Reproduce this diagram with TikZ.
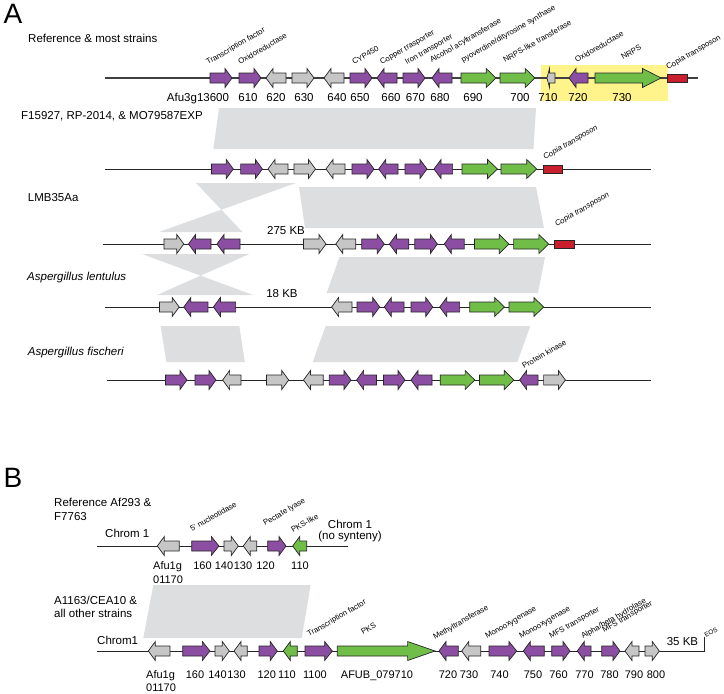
\documentclass[tikz,border=0pt]{standalone}
\usepackage{fontspec}
\setmainfont{Liberation Sans}
\definecolor{gpurple}{RGB}{140,78,162}
\definecolor{ggray}{RGB}{198,198,198}
\definecolor{ggreen}{RGB}{112,190,72}
\definecolor{gred}{RGB}{200,30,45}
\definecolor{gyellow}{RGB}{255,243,140}
\definecolor{gband}{RGB}{221,222,223}
\tikzset{
  gene/.style={draw=black!85, line width=0.7pt, line join=miter},
  pu/.style={fill=gpurple}, gr/.style={fill=ggray}, gn/.style={fill=ggreen},
  band/.style={fill=gband, draw=none},
  chrom/.style={draw=black!85, line width=0.8pt},
  lab/.style={font=\fontsize{11.5}{13}\selectfont, inner sep=0},
  num/.style={font=\fontsize{11}{13}\selectfont, inner sep=0, anchor=base},
  fn/.style={font=\fontsize{7.8}{9}\selectfont, rotate=30, anchor=base west, inner sep=0},
  big/.style={font=\fontsize{28}{30}\selectfont, inner sep=0}
}
\newcommand\gR[4]{%
  \pgfmathsetmacro\ghl{max(7,0.28*(#2-#1))}%
  \draw[gene,#4] (#1,#3-5) -- ({#2-\ghl},#3-5) -- ({#2-\ghl},#3-9.5) -- (#2,#3) -- ({#2-\ghl},#3+9.5) -- ({#2-\ghl},#3+5) -- (#1,#3+5) -- cycle;}
\newcommand\gL[4]{%
  \pgfmathsetmacro\ghl{max(7,0.28*(#2-#1))}%
  \draw[gene,#4] (#2,#3-5) -- ({#1+\ghl},#3-5) -- ({#1+\ghl},#3-9.5) -- (#1,#3) -- ({#1+\ghl},#3+9.5) -- ({#1+\ghl},#3+5) -- (#2,#3+5) -- cycle;}
\begin{document}
\begin{tikzpicture}[x=1pt,y=-1pt]
\useasboundingbox (0,0) rectangle (724,694);
% ---------------- Panel A ----------------
\node[big] (labA) at (13,14) {A};
\fill[gyellow] (540.7,65) rectangle (668,101);
% bands
\fill[band] (219,108) -- (536,108) -- (533.5,149) -- (213.4,149) -- cycle;
\fill[band] (196,183) -- (296,183) -- (159,232) -- (242.5,232) -- cycle;
\fill[band] (299,187) -- (536,187) -- (544,228) -- (305,228) -- cycle;
\fill[band] (142,254) -- (249.4,254) -- (157,295) -- (253,295) -- cycle;
\fill[band] (339.5,257) -- (545,257) -- (538,293) -- (326.6,293) -- cycle;
\fill[band] (160.7,326) -- (239.3,326) -- (244.8,362) -- (166.3,362) -- cycle;
\fill[band] (325.6,326) -- (530.3,326) -- (517.3,362) -- (312.7,362) -- cycle;
% row labels
\node[lab, anchor=west] (r1) at (28,38) {Reference \& most strains};
\node[lab, anchor=west] (r2) at (21,116) {F15927, RP-2014, \& MO79587EXP};
\node[lab, anchor=west] (r3) at (27.7,198) {LMB35Aa};
\node[lab, anchor=west] (r4) at (27,278) {\itshape Aspergillus lentulus};
\node[lab, anchor=west] (r5) at (27.7,353) {\itshape Aspergillus fischeri};
% row 1
\draw[line width=1.4pt, draw=black!75] (105,78) -- (698,78);
\gR{210}{232}{78}{pu}
\gR{239}{261}{78}{pu}
\gL{266}{286}{78}{gr}
\gR{292}{314}{78}{gr}
\gL{324}{344}{78}{gr}
\gR{350}{372}{78}{pu}
\gL{377}{397}{78}{pu}
\gR{403}{425}{78}{pu}
\gL{432}{452}{78}{pu}
\gR{461}{496}{78}{gn}
\gR{500}{535}{78}{gn}
\draw[gene,gr] (555,73) -- (549.5,73) -- (549.5,68.5) -- (547,78) -- (549.5,87.5) -- (549.5,83) -- (555,83) -- cycle;
\gL{569}{588}{78}{pu}
\gR{595}{661}{78}{gn}
\draw[gene, fill=gred] (667,74) rectangle (687,82);
\node[lab, anchor=base] (n600) at (198,101) {Afu3g13600};
\node[lab, anchor=base] (n610) at (248,101) {610};
\node[lab, anchor=base] (n620) at (276,101) {620};
\node[lab, anchor=base] (n630) at (304,101) {630};
\node[lab, anchor=base] (n640) at (337,101) {640};
\node[lab, anchor=base] (n650) at (360,101) {650};
\node[lab, anchor=base] (n660) at (391,101) {660};
\node[lab, anchor=base] (n670) at (415.5,101) {670};
\node[lab, anchor=base] (n680) at (440,101) {680};
\node[lab, anchor=base] (n690) at (473,101) {690};
\node[lab, anchor=base] (n700) at (520,101) {700};
\node[lab, anchor=base] (n710) at (548,101) {710};
\node[lab, anchor=base] (n720) at (578,101) {720};
\node[lab, anchor=base] (n730) at (622,101) {730};
\node[fn] (f1) at (208,65) {Transcription factor};
\node[fn] (f2) at (240,65) {Oxidoreductase};
\node[fn] (f3) at (354,65) {CYP450};
\node[fn] (f4) at (381.7,65) {Copper trasporter};
\node[fn] (f5) at (406.7,65) {Iron transporter};
\node[fn] (f6) at (431.7,63) {Alcohol acyltransferase};
\node[fn] (f7) at (463,63) {pyoverdine/dityrosine synthase};
\node[fn] (f8) at (505,63) {NRPS-like transferase};
\node[fn] (f9) at (576.7,63) {Oxidoreductase};
\node[fn] (f10) at (623,60) {NRPS};
\node[fn] (f11) at (668,70) {Copia transposon};
% row 2
\draw[chrom] (105,169) -- (651,169);
\gR{211.5}{233.3}{169}{pu}
\gR{240.6}{262.4}{169}{pu}
\gL{268}{288}{169}{gr}
\gR{294}{315.5}{169}{gr}
\gL{326}{345}{169}{gr}
\gR{352}{374}{169}{pu}
\gL{378.7}{398}{169}{pu}
\gR{405}{427}{169}{pu}
\gL{434}{452.6}{169}{pu}
\gR{462}{497.5}{169}{gn}
\gR{501}{536.7}{169}{gn}
\draw[gene, fill=gred] (543,165) rectangle (562.6,173);
\node[fn, font=\fontsize{7.8}{9}\selectfont\itshape] (c2) at (545,160) {Copia transposon};
% row 3
\draw[chrom] (102.5,244) -- (651,244);
\gR{164}{183.8}{244}{gr}
\gL{188.5}{211}{244}{pu}
\gL{217}{240}{244}{pu}
\gR{303.5}{326}{244}{gr}
\gL{335.8}{355.7}{244}{gr}
\gR{361.7}{384.3}{244}{pu}
\gL{389.4}{408.8}{244}{pu}
\gR{414.8}{437.4}{244}{pu}
\gL{444.3}{464.2}{244}{pu}
\gR{474.4}{509}{244}{gn}
\gR{513.6}{548.7}{244}{gn}
\draw[gene, fill=gred] (554.3,240) rectangle (574.6,248);
\node[fn, font=\fontsize{7.8}{9}\selectfont\itshape] (c3) at (556.6,227) {Copia transposon};
\node[lab] (kb275) at (286,231) {275 KB};
% row 4
\draw[chrom] (105,307) -- (651,307);
\gR{159.4}{179.2}{307}{gr}
\gL{183.8}{207.9}{307}{pu}
\gL{213.4}{235.6}{307}{pu}
\gL{331.6}{352}{307}{gr}
\gR{357}{379.7}{307}{pu}
\gL{384.3}{404}{307}{pu}
\gR{411}{432.8}{307}{pu}
\gL{439.7}{459.6}{307}{pu}
\gR{469.7}{504.4}{307}{gn}
\gR{509}{543.6}{307}{gn}
\node[lab] (kb18) at (282,294) {18 KB};
% row 5
\draw[chrom] (107,380) -- (651,380);
\gR{165.4}{187}{380}{pu}
\gR{195}{216}{380}{pu}
\gL{222.6}{241}{380}{gr}
\gR{266.5}{288.7}{380}{gr}
\gL{303.5}{323.3}{380}{gr}
\gR{329.3}{351}{380}{pu}
\gL{356.6}{376.4}{380}{pu}
\gR{383.4}{405}{380}{pu}
\gL{411}{432}{380}{pu}
\gR{440.2}{474.8}{380}{gn}
\gR{479.4}{514}{380}{gn}
\gL{519.6}{538}{380}{pu}
\gR{543.6}{565.4}{380}{gr}
\node[fn] (pk) at (524,369) {Protein kinase};
% ---------------- Panel B ----------------
\node[big] (labB) at (13,478) {B};
\fill[band] (153.3,585) -- (310.7,585) -- (301.7,638) -- (143.3,638) -- cycle;
\node[lab, anchor=west] (b1a) at (54,502) {Reference Af293 \&};
\node[lab, anchor=west] (b1b) at (54,517) {F7763};
\node[lab, anchor=west] (b2a) at (54,600) {A1163/CEA10 \&};
\node[lab, anchor=west] (b2b) at (54,613) {all other strains};
% B row 1
\draw[chrom] (97,546) -- (348,546);
\node[lab, anchor=west] (ch1) at (105,533) {Chrom 1};
\node[lab] (ch1r) at (350,524) {Chrom 1};
\node[lab] (nos) at (350,537) {(no synteny)};
\gL{157.3}{179.3}{546}{gr}
\gR{191.7}{219}{546}{pu}
\gR{224}{238.3}{546}{gr}
\gL{243.3}{256.7}{546}{gr}
\gR{267.7}{286}{546}{pu}
\gL{292.7}{306.7}{546}{gn}
\node[num, anchor=base west] (b1n1) at (153,569) {Afu1g};
\node[num, anchor=base west] (b1n2) at (153,583) {01170};
\node[num] (b1n160) at (202.5,569) {160};
\node[num] (b1n140) at (224,569) {140};
\node[num] (b1n130) at (243,569) {130};
\node[num] (b1n120) at (265.5,569) {120};
\node[num] (b1n110) at (300,569) {110};
\node[fn] (bf1) at (192,532) {5' nucleotidase};
\node[fn] (bf2) at (265,526) {Pectate lyase};
\node[fn] (bf3) at (293,533) {PKS-like};
% B row 2
\draw[chrom] (97,651) -- (704,651) -- (704,637);
\node[lab, anchor=west] (ch2) at (97,640) {Chrom1};
\gL{148.3}{170}{651}{gr}
\gR{182.7}{210}{651}{pu}
\gR{215}{229.3}{651}{gr}
\gL{234}{247.3}{651}{gr}
\gR{259}{277.3}{651}{pu}
\gL{283.3}{297.3}{651}{gn}
\gR{305}{332.3}{651}{pu}
\gR{337.3}{435}{651}{gn}
\gL{439}{458.3}{651}{pu}
\gL{461.7}{480.7}{651}{gr}
\gR{489}{516.7}{651}{pu}
\gL{523.3}{544.3}{651}{pu}
\gR{551.7}{570}{651}{pu}
\gL{577.3}{591}{651}{pu}
\gR{601.7}{620}{651}{pu}
\gL{625}{639}{651}{gr}
\gR{645}{659.3}{651}{gr}
\node[num, anchor=base west] (b2n1) at (146,678) {Afu1g};
\node[num, anchor=base west] (b2n2) at (146,691) {01170};
\node[num] (b2n160) at (195,678) {160};
\node[num] (b2n140) at (217.5,678) {140};
\node[num] (b2n130) at (236.5,678) {130};
\node[num] (b2n120) at (266.7,678) {120};
\node[num] (b2n110) at (287,678) {110};
\node[num] (b2n1100) at (315,678) {1100};
\node[num] (b2pks) at (377,678) {AFUB\_079710};
\node[num] (b2n720) at (448,678) {720};
\node[num] (b2n730) at (469,678) {730};
\node[num] (b2n740) at (499.5,678) {740};
\node[num] (b2n750) at (533,678) {750};
\node[num] (b2n760) at (558.5,678) {760};
\node[num] (b2n770) at (584.5,678) {770};
\node[num] (b2n780) at (609.5,678) {780};
\node[num] (b2n790) at (634,678) {790};
\node[num] (b2n800) at (656,678) {800};
\node[fn] (bg1) at (309,637) {Transcription factor};
\node[fn] (bg2) at (363,635) {PKS};
\node[fn] (bg3) at (435,640) {Methyltransferase};
\node[fn] (bg4) at (487,639) {Monooxygenase};
\node[fn] (bg5) at (521,639) {Monooxygenase};
\node[fn] (bg6) at (551,639) {MFS transporter};
\node[fn] (bg7) at (583,639) {Alpha/beta hydrolase};
\node[fn] (bg8) at (604,633) {MFS transporter};
\node[lab] (kb35) at (682.5,641.5) {35 KB};
\node[fn, font=\fontsize{6.5}{8}\selectfont] (eos) at (706,638) {EOS};
\end{tikzpicture}
\end{document}
